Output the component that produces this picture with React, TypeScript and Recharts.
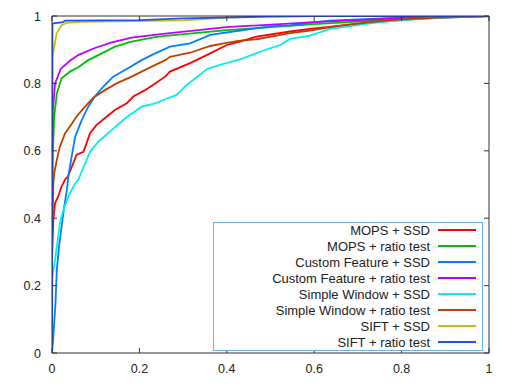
import React from 'react';
import { LineChart, Line, XAxis, YAxis, Legend } from 'recharts';

// curves, [false positive rate, true positive rate]
const mopsSsd: [number, number][] = [
  [0, 0.28], [0.003, 0.395], [0.007, 0.445], [0.014, 0.464], [0.022, 0.494], [0.03, 0.515],
  [0.037, 0.525], [0.056, 0.588], [0.072, 0.597], [0.079, 0.622], [0.087, 0.652], [0.102, 0.677],
  [0.125, 0.701], [0.144, 0.721], [0.171, 0.741], [0.186, 0.761], [0.213, 0.78], [0.236, 0.8],
  [0.259, 0.82], [0.27, 0.835], [0.316, 0.86], [0.362, 0.889], [0.4, 0.914], [0.43, 0.924],
  [0.468, 0.939], [0.545, 0.954], [0.59, 0.962], [0.651, 0.97], [0.728, 0.981],
  [0.796, 0.988], [0.865, 0.994], [0.934, 0.997], [1, 1],
];
const mopsRatio: [number, number][] = [
  [0, 0.4], [0.002, 0.6], [0.005, 0.7], [0.011, 0.77], [0.022, 0.815], [0.041, 0.835],
  [0.06, 0.848], [0.083, 0.869], [0.114, 0.889], [0.144, 0.909], [0.182, 0.924], [0.236, 0.937],
  [0.259, 0.941], [0.4, 0.958], [0.6, 0.976], [0.8, 0.991], [0.9, 0.997], [1, 1],
];
const customSsd: [number, number][] = [
  [0, 0], [0.003, 0.048], [0.008, 0.148], [0.011, 0.246], [0.016, 0.315], [0.022, 0.375],
  [0.028, 0.434], [0.034, 0.484], [0.038, 0.53], [0.045, 0.583], [0.053, 0.642], [0.068, 0.691],
  [0.083, 0.731], [0.098, 0.761], [0.117, 0.79], [0.14, 0.82], [0.167, 0.84], [0.205, 0.869],
  [0.236, 0.889], [0.27, 0.909], [0.316, 0.919], [0.362, 0.944], [0.43, 0.957],
  [0.499, 0.969], [0.545, 0.972], [0.59, 0.98], [0.636, 0.986], [0.8, 0.995], [1, 1],
];
const customRatio: [number, number][] = [
  [0, 0.5], [0.002, 0.72], [0.007, 0.8], [0.02, 0.843], [0.041, 0.867], [0.06, 0.884],
  [0.098, 0.905], [0.137, 0.922], [0.182, 0.936], [0.259, 0.948], [0.4, 0.967], [0.6, 0.982],
  [0.8, 0.994], [1, 1],
];
const simpleSsd: [number, number][] = [
  [0, 0.05], [0.001, 0.226], [0.007, 0.276], [0.013, 0.335], [0.018, 0.385], [0.026, 0.424],
  [0.037, 0.464], [0.053, 0.503], [0.06, 0.513], [0.076, 0.563], [0.087, 0.597], [0.106, 0.627],
  [0.137, 0.662], [0.167, 0.696], [0.205, 0.731], [0.236, 0.741], [0.259, 0.753], [0.285, 0.766],
  [0.308, 0.795], [0.354, 0.842], [0.384, 0.855], [0.43, 0.871], [0.476, 0.894], [0.522, 0.914],
  [0.545, 0.932], [0.59, 0.942], [0.636, 0.962], [0.682, 0.97], [0.758, 0.983], [0.834, 0.991],
  [0.9, 0.995], [1, 1],
];
const simpleRatio: [number, number][] = [
  [0, 0.33], [0.003, 0.5], [0.005, 0.533], [0.011, 0.573], [0.018, 0.612], [0.03, 0.652],
  [0.041, 0.672], [0.056, 0.701], [0.072, 0.726], [0.095, 0.758], [0.121, 0.78], [0.148, 0.8],
  [0.182, 0.82], [0.213, 0.84], [0.259, 0.869], [0.27, 0.879], [0.316, 0.891], [0.362, 0.911],
  [0.393, 0.919], [0.43, 0.927], [0.468, 0.931], [0.545, 0.949], [0.59, 0.957], [0.651, 0.97],
  [0.728, 0.982], [0.8, 0.99], [0.9, 0.996], [1, 1],
];
const siftSsd: [number, number][] = [
  [0, 0.6], [0.001, 0.88], [0.011, 0.95], [0.022, 0.973], [0.034, 0.98], [0.064, 0.983],
  [0.3, 0.987], [0.4, 0.995], [0.5, 1], [1, 1],
];
const siftRatio: [number, number][] = [
  [0, 0], [0.001, 0.976], [0.003, 0.978], [0.025, 0.982], [0.03, 0.986], [0.2, 0.988],
  [0.3, 0.993], [0.45, 0.997], [0.6, 1], [1, 1],
];

const names = [
  'MOPS + SSD', 'MOPS + ratio test', 'Custom Feature + SSD', 'Custom Feature + ratio test',
  'Simple Window + SSD', 'Simple Window + ratio test', 'SIFT + SSD', 'SIFT + ratio test',
];
const colors = ['#ff0000', '#00c000', '#0080ff', '#c000ff', '#00eeee', '#c04000', '#c8c000', '#2050ff'];
const curves = [mopsSsd, mopsRatio, customSsd, customRatio, simpleSsd, simpleRatio, siftSsd, siftRatio];

const ticks = [0, 0.2, 0.4, 0.6, 0.8, 1];

const FONT = '"Liberation Sans", Arial, sans-serif';
const AXIS = '#333';

const BottomTick = ({ x, y, payload }: any) => (
  <g>
    <line x1={x} x2={x} y1={y} y2={y - 5} stroke={AXIS} />
    <text x={x} y={y + 20} textAnchor="middle" fontSize={12.5} fontFamily={FONT} fill="#222">
      {String(payload.value)}
    </text>
  </g>
);
const LeftTick = ({ x, y, payload }: any) => (
  <g>
    <line x1={x} x2={x + 5} y1={y} y2={y} stroke={AXIS} />
    <text x={x - 11} y={y + 4.5} textAnchor="end" fontSize={12.5} fontFamily={FONT} fill="#222">
      {String(payload.value)}
    </text>
  </g>
);
const TopTick = ({ x, y }: any) => <line x1={x} x2={x} y1={y} y2={y + 5} stroke={AXIS} />;
const RightTick = ({ x, y }: any) => <line x1={x} x2={x - 5} y1={y} y2={y} stroke={AXIS} />;

// legend keeps the plotting order (the library sorts its payload by name)
const LegendBox = () => (
  <div
    style={{
      width: 270, height: 129, boxSizing: 'border-box', border: '1px solid #6ab0f0',
      background: '#fff', fontFamily: FONT, fontSize: 13, color: '#222',
    }}
  >
    {names.map((n, i) => (
      <div key={n} style={{ display: 'flex', alignItems: 'center', height: 16, marginTop: i === 0 ? -1 : 0 }}>
        <span style={{ width: 216, textAlign: 'right', whiteSpace: 'nowrap' }}>{n}</span>
        <span style={{ width: 38, height: 2, marginLeft: 8, background: colors[i] }} />
      </div>
    ))}
  </div>
);

export default function App() {
  return (
    <div style={{ position: 'absolute', left: 0, top: 0, background: '#fff' }}>
      <LineChart width={516} height={387} margin={{ top: 15, right: 26, left: 12, bottom: 4 }}>
        <XAxis
          type="number" dataKey="x" domain={[0, 1]} ticks={ticks} height={30}
          tickSize={0} tickMargin={0} tick={<BottomTick />} axisLine={{ stroke: AXIS }}
          allowDataOverflow
        />
        <XAxis
          xAxisId="top" orientation="top" type="number" dataKey="x" domain={[0, 1]} ticks={ticks}
          height={1} tickSize={0} tickMargin={0} tick={<TopTick />} axisLine={{ stroke: AXIS }}
          allowDataOverflow
        />
        <YAxis
          type="number" domain={[0, 1]} ticks={ticks} width={40}
          tickSize={0} tickMargin={0} tick={<LeftTick />} axisLine={{ stroke: AXIS }}
          allowDataOverflow
        />
        <YAxis
          yAxisId="right" orientation="right" type="number" domain={[0, 1]} ticks={ticks} width={1}
          tickSize={0} tickMargin={0} tick={<RightTick />} axisLine={{ stroke: AXIS }}
          allowDataOverflow
        />
        {curves.map((c, i) => (
          <Line
            key={names[i]}
            name={names[i]}
            data={c.map(([x, y]) => ({ x, y }))}
            dataKey="y"
            type="linear"
            stroke={colors[i]}
            strokeWidth={1.8}
            dot={false}
            activeDot={false}
            isAnimationActive={false}
          />
        ))}
        <Legend
          layout="horizontal" verticalAlign="middle"
          wrapperStyle={{ left: 213, top: 222, width: 270, height: 129 }}
          content={<LegendBox />}
        />
      </LineChart>
    </div>
  );
}
